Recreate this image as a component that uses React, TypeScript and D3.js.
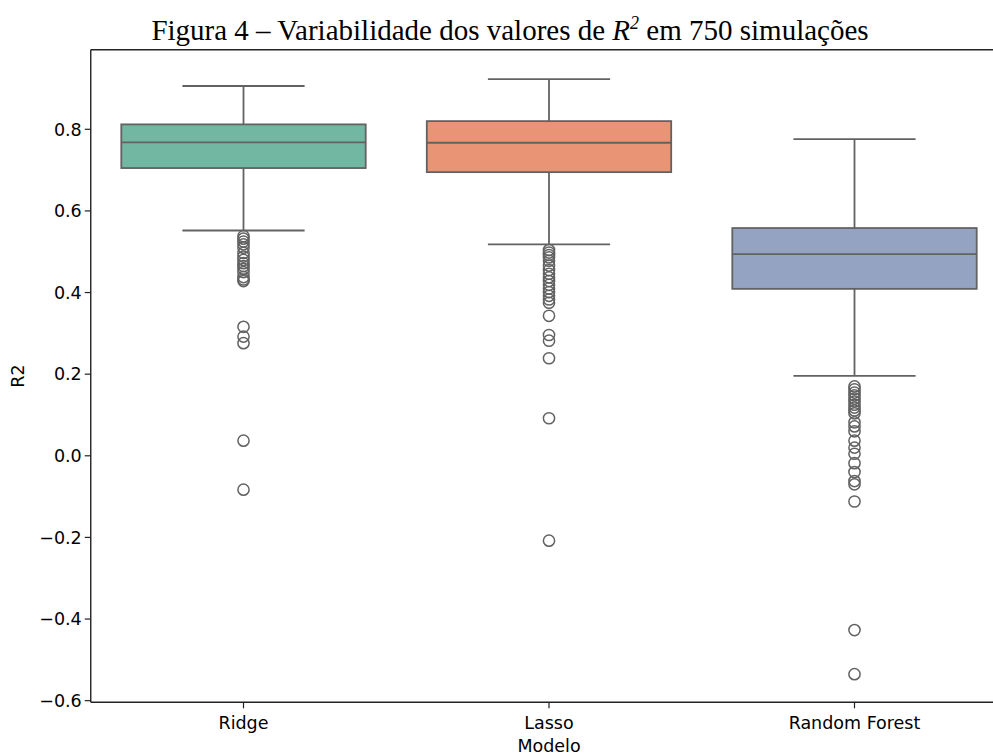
import React from "react";
import * as d3 from "d3";

const categories = ["Ridge", "Lasso", "Random Forest"];
const q1 = [0.705, 0.695, 0.409];
const median = [0.768, 0.767, 0.494];
const q3 = [0.812, 0.820, 0.558];
const whiskerLow = [0.552, 0.518, 0.196];
const whiskerHigh = [0.906, 0.923, 0.776];
const outliersRidge = [0.538, 0.532, 0.525, 0.518, 0.510, 0.497, 0.488, 0.480, 0.472, 0.465, 0.458, 0.450, 0.438, 0.432, 0.428, 0.316, 0.292, 0.276, 0.037, -0.083];
const outliersLasso = [0.504, 0.498, 0.492, 0.486, 0.478, 0.466, 0.455, 0.446, 0.437, 0.428, 0.419, 0.410, 0.401, 0.392, 0.383, 0.375, 0.343, 0.296, 0.282, 0.239, 0.092, -0.208];
const outliersRF = [0.170, 0.163, 0.155, 0.148, 0.140, 0.133, 0.125, 0.118, 0.111, 0.104, 0.082, 0.072, 0.060, 0.037, 0.020, 0.005, -0.018, -0.040, -0.062, -0.070, -0.112, -0.427, -0.535];
const outliers = [outliersRidge, outliersLasso, outliersRF];
const colors = ["#72b7a1", "#e99575", "#95a3c3"];
const yTicks = [-0.6, -0.4, -0.2, 0.0, 0.2, 0.4, 0.6, 0.8];

export default function App() {
  const W = 993, H = 756;
  const left = 90.75, right = 1007.25, top = 49.7, bottom = 702.3;
  const x = d3.scaleBand<string>().domain(categories).range([left, right]).paddingInner(0).paddingOuter(0);
  const y = d3.scaleLinear().domain([-0.604, 0.995]).range([bottom, top]);
  const bw = x.bandwidth() * 0.8;
  const capW = bw / 2;
  const line = "#626262";
  const fmt = (v: number) => (v < 0 ? "\u2212" : "") + Math.abs(v).toFixed(1);
  const font = "DejaVu Sans, sans-serif";
  const fs = 17.5;
  const cxOf = (c: string) => (x(c) as number) + x.bandwidth() / 2;
  return (
    <svg width={W} height={H} style={{ position: "absolute", left: 0, top: 0, background: "#fff" }}>
      <text x={510} y={40} textAnchor="middle" fontFamily="Liberation Serif, Times New Roman, serif" fontSize={29} fill="#000">
        Figura 4 – Variabilidade dos valores de <tspan fontStyle="italic">R</tspan>
        <tspan fontSize={18} dy={-11} fontStyle="italic">2</tspan>
        <tspan dy={11}> em 750 simulações</tspan>
      </text>
      {categories.map((c, i) => {
        const cx = cxOf(c);
        return (
          <g key={c}>
            <line x1={cx} x2={cx} y1={y(q3[i])} y2={y(whiskerHigh[i])} stroke={line} strokeWidth={1.8} />
            <line x1={cx} x2={cx} y1={y(q1[i])} y2={y(whiskerLow[i])} stroke={line} strokeWidth={1.8} />
            <line x1={cx - capW / 2} x2={cx + capW / 2} y1={y(whiskerHigh[i])} y2={y(whiskerHigh[i])} stroke={line} strokeWidth={1.8} />
            <line x1={cx - capW / 2} x2={cx + capW / 2} y1={y(whiskerLow[i])} y2={y(whiskerLow[i])} stroke={line} strokeWidth={1.8} />
            <rect x={cx - bw / 2} y={y(q3[i])} width={bw} height={y(q1[i]) - y(q3[i])} fill={colors[i]} stroke={line} strokeWidth={1.8} />
            <line x1={cx - bw / 2} x2={cx + bw / 2} y1={y(median[i])} y2={y(median[i])} stroke={line} strokeWidth={1.8} />
            {outliers[i].map((v, j) => (
              <circle key={j} cx={cx} cy={y(v)} r={5.6} fill="none" stroke={line} strokeWidth={1.5} />
            ))}
          </g>
        );
      })}
      <line x1={left} x2={left} y1={top} y2={bottom} stroke="#222" strokeWidth={1.4} />
      <line x1={left} x2={right} y1={top} y2={top} stroke="#222" strokeWidth={1.4} />
      <line x1={left} x2={right} y1={bottom} y2={bottom} stroke="#222" strokeWidth={1.4} />
      <line x1={right} x2={right} y1={top} y2={bottom} stroke="#222" strokeWidth={1.4} />
      {yTicks.map((t) => (
        <g key={t}>
          <line x1={left - 6} x2={left} y1={y(t)} y2={y(t)} stroke="#222" strokeWidth={1.2} />
          <text x={left - 9} y={y(t)} dy="0.36em" textAnchor="end" fontFamily={font} fontSize={fs} fill="#000">{fmt(t)}</text>
        </g>
      ))}
      {categories.map((c) => {
        const cx = cxOf(c);
        return (
          <g key={c}>
            <line x1={cx} x2={cx} y1={bottom} y2={bottom + 6} stroke="#222" strokeWidth={1.2} />
            <text x={cx} y={bottom + 27} textAnchor="middle" fontFamily={font} fontSize={fs} fill="#000">{c}</text>
          </g>
        );
      })}
      <text x={cxOf("Lasso")} y={bottom + 50} textAnchor="middle" fontFamily={font} fontSize={fs} fill="#000">Modelo</text>
      <text transform={`translate(24, ${(top + bottom) / 2}) rotate(-90)`} textAnchor="middle" fontFamily={font} fontSize={fs} fill="#000">R2</text>
    </svg>
  );
}
